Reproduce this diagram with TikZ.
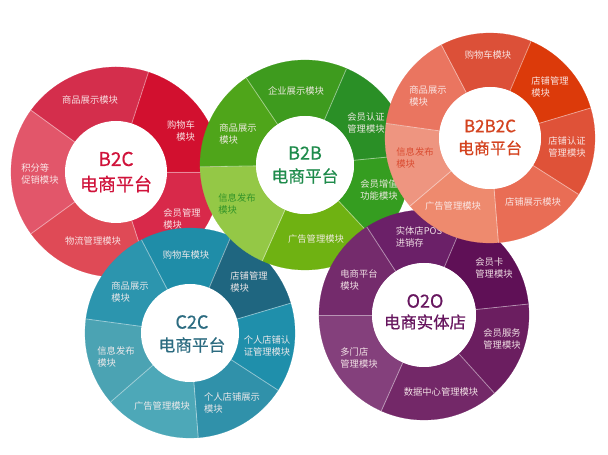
\documentclass[tikz,border=0pt]{standalone}
\usepackage{fontspec}
\setmainfont{Noto Sans CJK SC}
\newfontfamily\hubfont[FakeBold=0.6]{Noto Sans CJK SC}
\definecolor{lab}{HTML}{FBEFEF}
\definecolor{titleA}{HTML}{D0123A}
\definecolor{titleB}{HTML}{2B6B80}
\definecolor{titleC}{HTML}{1E8B4B}
\definecolor{titleD}{HTML}{67165F}
\definecolor{titleE}{HTML}{D4431F}
\definecolor{labC}{HTML}{2A8F26}
\definecolor{labE}{HTML}{D8452A}
\tikzset{
  seclabel/.style={text=lab,font=\fontsize{9.3}{12}\selectfont,align=left,inner sep=0pt,opacity=.92},
  hub/.style={circle,fill=white,inner sep=0pt,minimum size=#1},
  hubtitle/.style={font=\hubfont\fontsize{#1}{#1}\selectfont,inner sep=0pt},
  spoke/.style={draw=white,draw opacity=.45,line width=.8pt}
}
% centre x, y(up), start, end, inner, outer, colour
\newcommand{\ringsec}[7]{%
  \begin{scope}[shift={(#1,#2)}]
    \definecolor{secfill}{HTML}{#7}%
    \path[fill=secfill,draw=secfill,line width=.2pt] (#3:#5pt) -- (#3:#6pt) arc[start angle=#3,end angle=#4,radius=#6pt] -- (#4:#5pt) arc[start angle=#4,end angle=#3,radius=#5pt] -- cycle;
  \end{scope}}
\newcommand{\ringspoke}[5]{%
  \begin{scope}[shift={(#1,#2)}]
    \path[spoke] (#3:#4pt) -- (#3:#5pt);
  \end{scope}}
\newcommand{\seclab}[4][lab]{\node[seclabel,text=#1] at (#2,{455-#3}) {#4};}
\begin{document}
\begin{tikzpicture}[x=1pt,y=1pt]
\useasboundingbox (0,0) rectangle (608,455);
\fill[white] (0,0) rectangle (608,455);
% ---------- B2C
\ringsec{116}{283}{72}{144}{50}{105}{D42E4C}
\ringsec{116}{283}{0}{72}{50}{105}{D2102F}
\ringsec{116}{283}{-72}{0}{50}{105}{D8294A}
\ringsec{116}{283}{-144}{-72}{50}{105}{DF4A56}
\ringsec{116}{283}{144}{216}{50}{105}{E2566A}
\foreach \a in {72,0,-72,-144,144}{\ringspoke{116}{283}{\a}{50}{105}}
\node[hub=102pt] (hubA) at (116,283) {};
\node[hubtitle=19,text=titleA] (tA1) at (116,{455-159}) {B2C};
\node[hubtitle=18,text=titleA] (tA2) at (116,{455-184}) {电商平台};
\seclab{90}{100}{商品展示模块}
\node[seclabel,align=right] (lA2) at (181,{455-131}) {购物车\\模块};
\seclab{182}{219}{会员管理\\模块}
\seclab{93}{241}{物流管理模块}
\seclab{40}{174}{积分等\\促销模块}
% ---------- C2C
\ringsec{190}{122}{67}{117.5}{48}{105}{1F8DA8}
\ringsec{190}{122}{16.5}{67}{48}{105}{1F6680}
\ringsec{190}{122}{-33}{16.5}{48}{105}{1F8FAB}
\ringsec{190}{122}{-85.5}{-33}{48}{105}{3091AA}
\ringsec{190}{122}{-139}{-85.5}{48}{105}{4DA8B8}
\ringsec{190}{122}{172.3}{221}{48}{105}{4BA3B3}
\ringsec{190}{122}{117.5}{172.3}{48}{105}{2C95AE}
\foreach \a in {67,117.5,172.3,221,-85.5,-33,16.5}{\ringspoke{190}{122}{\a}{48}{105}}
\node[hub=98pt] (hubB) at (190,122) {};
\node[hubtitle=18,text=titleB] (tB1) at (192,{455-322}) {C2C};
\node[hubtitle=16.7,text=titleB] (tB2) at (192,{455-345}) {电商平台};
\seclab{186}{255}{购物车模块}
\seclab{249}{282}{店铺管理\\模块}
\seclab{267}{346}{个人店铺认\\证管理模块}
\seclab{232}{403}{个人店铺展示\\模块}
\seclab{162}{406}{广告管理模块}
\seclab{116}{357}{信息发布\\模块}
\seclab{130}{292}{商品展示\\模块}
% ---------- B2B
\ringsec{305}{290}{66.7}{124}{49}{105}{3E9B1E}
\ringsec{305}{290}{5.5}{66.7}{49}{105}{2A8F26}
\ringsec{305}{290}{-47}{5.5}{49}{105}{359D20}
\ringsec{305}{290}{-114}{-47}{49}{105}{6FB212}
\ringsec{305}{290}{181}{246}{49}{105}{94C846}
\ringsec{305}{290}{124}{181}{49}{105}{4FA51A}
\foreach \a in {66.7,124,181,246,-47,5.5}{\ringspoke{305}{290}{\a}{49}{105}}
\node[hub=98pt] (hubC) at (305,290) {};
\node[hubtitle=18,text=titleC] (tC1) at (305,{455-153}) {B2B};
\node[hubtitle=16.7,text=titleC] (tC2) at (305,{455-176}) {电商平台};
\seclab{296}{91}{企业展示模块}
\seclab{366}{123}{会员认证\\管理模块}
\seclab{379}{190}{会员增值\\功能模块}
\seclab{316}{239}{广告管理模块}
\seclab[labC]{237}{204}{信息发布\\模块}
\seclab{238}{134}{商品展示\\模块}
% ---------- O2O
\ringsec{424}{140}{67}{123}{52}{105}{6B2068}
\ringsec{424}{140}{6}{67}{52}{105}{5F1056}
\ringsec{424}{140}{-48}{6}{52}{105}{6B1E60}
\ringsec{424}{140}{-114}{-48}{52}{105}{732868}
\ringsec{424}{140}{180}{246}{52}{105}{84407C}
\ringsec{424}{140}{123}{180}{52}{105}{742B6C}
\foreach \a in {67,123,180,246,-48,6}{\ringspoke{424}{140}{\a}{52}{105}}
\node[hub=104pt] (hubD) at (424,140) {};
\node[hubtitle=18,text=titleD] (tD1) at (425,{455-301}) {O2O};
\node[hubtitle=16.4,text=titleD] (tD2) at (425,{455-322}) {电商实体店};
\seclab{419}{237}{实体店POS\\进销存}
\seclab{494}{268}{会员卡\\管理模块}
\seclab{502}{339}{会员服务\\管理模块}
\seclab{441}{392}{数据中心管理模块}
\seclab{359}{358}{多门店\\管理模块}
\seclab{359}{280}{电商平台\\模块}
% ---------- B2B2C
\ringsec{490}{317}{67}{117.6}{51}{105}{DC5038}
\ringsec{490}{317}{16.6}{67}{51}{105}{DC3A0A}
\ringsec{490}{317}{-32.5}{16.6}{51}{105}{DF5238}
\ringsec{490}{317}{-85.4}{-32.5}{51}{105}{E96D55}
\ringsec{490}{317}{-139.6}{-85.4}{51}{105}{EE8A6E}
\ringsec{490}{317}{172}{220.4}{51}{105}{EE9580}
\ringsec{490}{317}{117.6}{172}{51}{105}{EA7560}
\foreach \a in {67,117.6,172,220.4,-85.4,-32.5,16.6}{\ringspoke{490}{317}{\a}{51}{105}}
\node[hub=102pt] (hubE) at (490,317) {};
\node[hubtitle=17,text=titleE] (tE1) at (490,{455-126}) {B2B2C};
\node[hubtitle=16,text=titleE] (tE2) at (490,{455-148}) {电商平台};
\seclab{488}{55}{购物车模块}
\seclab{550}{87}{店铺管理\\模块}
\seclab{567}{147}{店铺认证\\管理模块}
\seclab{533}{202}{店铺展示模块}
\seclab{453}{206}{广告管理模块}
\seclab[labE]{415}{158}{信息发布\\模块}
\seclab{428}{96}{商品展示\\模块}
\end{tikzpicture}
\end{document}
